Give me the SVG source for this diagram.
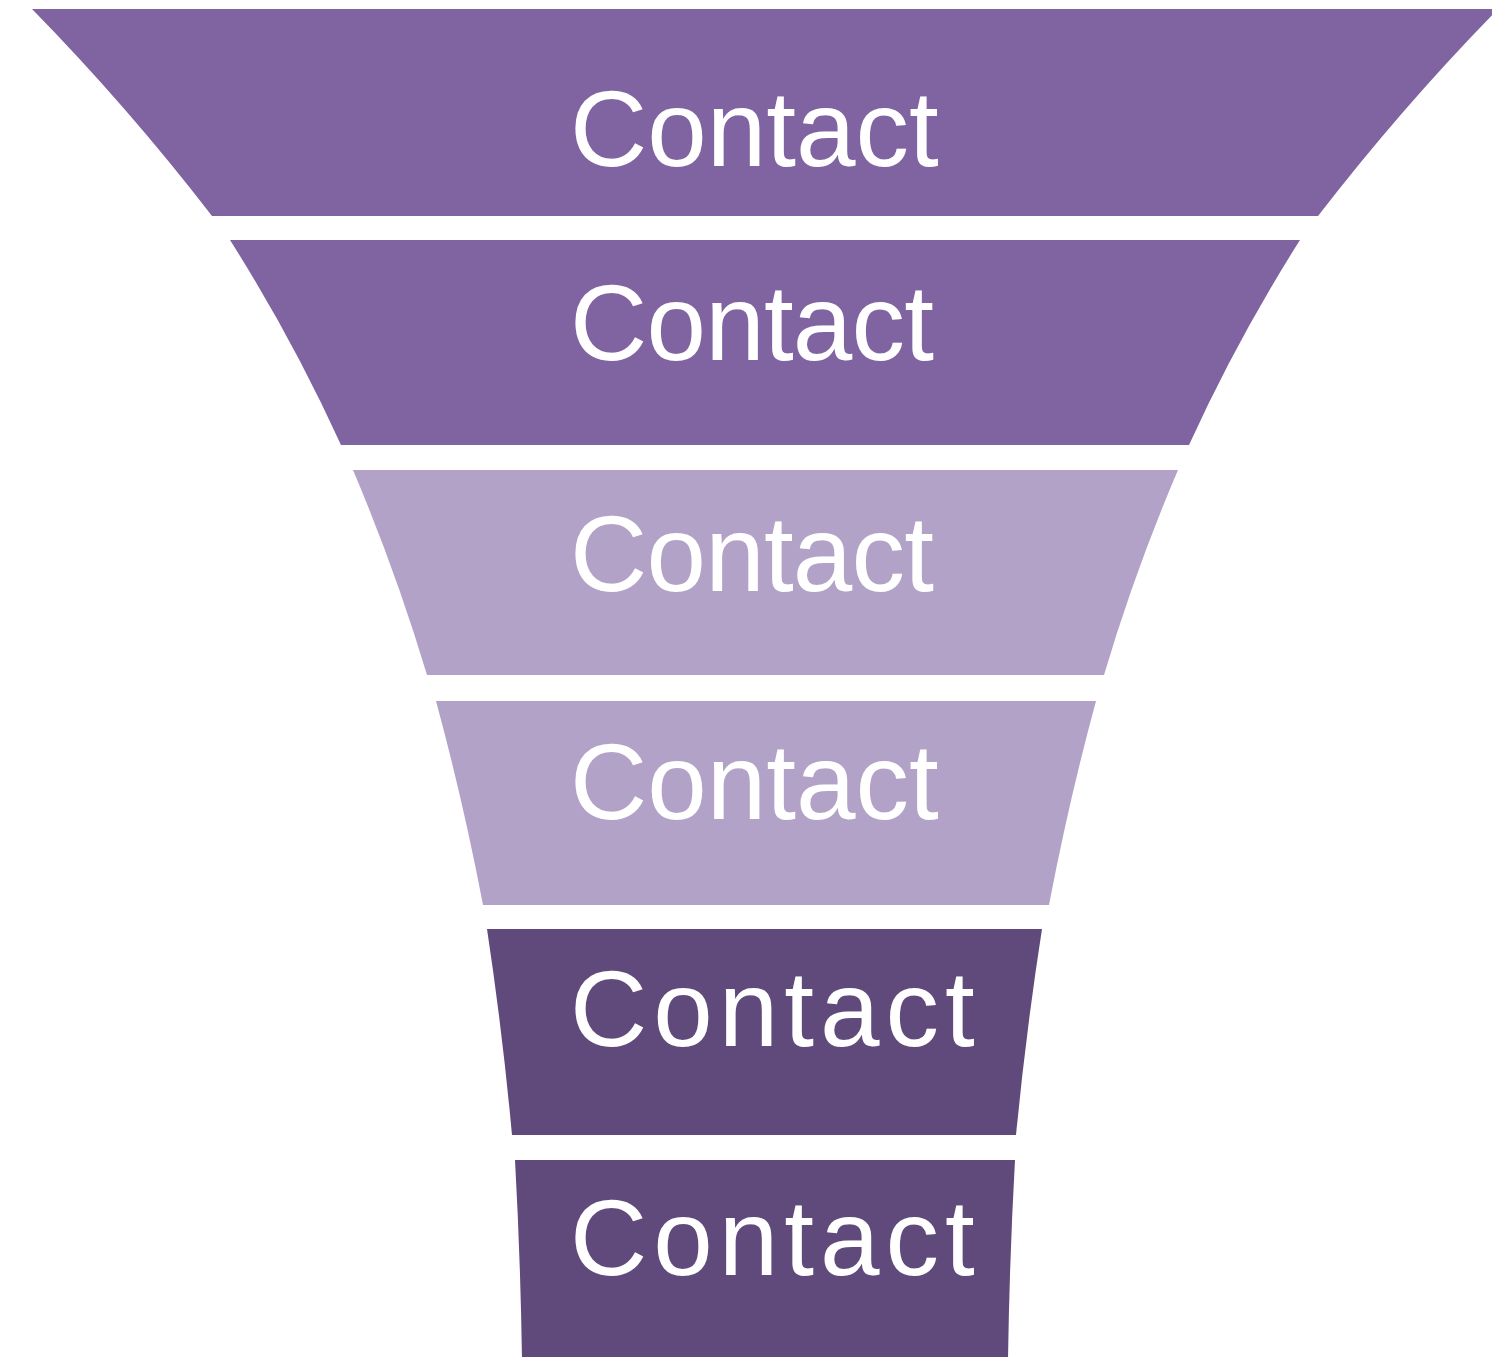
<svg xmlns="http://www.w3.org/2000/svg" width="1492" height="1357" viewBox="0 0 1492 1357">
  <style>
    .mid { fill: #8064A2; }
    .light { fill: #B2A2C7; }
    .dark { fill: #604A7B; }
    .label { font-family: "Liberation Sans", Arial, Helvetica, sans-serif; font-size: 107px; fill: #FFFFFF; }
    .narrow { letter-spacing: -0.8px; }
    .wide { letter-spacing: 6px; }
  </style>
  <rect width="1492" height="1357" fill="#FFFFFF"/>

  <!-- funnel tier 1 -->
  <g id="tier1">
    <path class="mid" d="M32,9 L1498,9 Q1402,107 1318,216 L212,216 Q128,107 32,9 Z"/>
    <text class="label" x="570" y="166">Contact</text>
  </g>

  <!-- funnel tier 2 -->
  <g id="tier2">
    <path class="mid" d="M230,240 L1300,240 Q1237.5,338.7 1189,445 L341,445 Q292.5,338.7 230,240 Z"/>
    <text class="label narrow" x="570" y="360">Contact</text>
  </g>

  <!-- funnel tier 3 -->
  <g id="tier3">
    <path class="light" d="M353,470 L1178,470 Q1135,570.5 1104,675 L427,675 Q395.6,570.5 353,470 Z"/>
    <text class="label narrow" x="570" y="591">Contact</text>
  </g>

  <!-- funnel tier 4 -->
  <g id="tier4">
    <path class="light" d="M436,701 L1096,701 Q1068.6,802 1049,905 L483,905 Q463.4,802 436,701 Z"/>
    <text class="label" x="570" y="819">Contact</text>
  </g>

  <!-- funnel tier 5 -->
  <g id="tier5">
    <path class="dark" d="M487,929 L1042,929 Q1026,1031.6 1016,1135 L512,1135 Q502.5,1031.6 487,929 Z"/>
    <text class="label wide" x="570" y="1046">Contact</text>
  </g>

  <!-- funnel tier 6 -->
  <g id="tier6">
    <path class="dark" d="M515,1160 L1015,1160 Q1009.5,1258.5 1008,1360 L522,1360 Q520.5,1258.5 515,1160 Z"/>
    <text class="label wide" x="570" y="1275">Contact</text>
  </g>
</svg>
